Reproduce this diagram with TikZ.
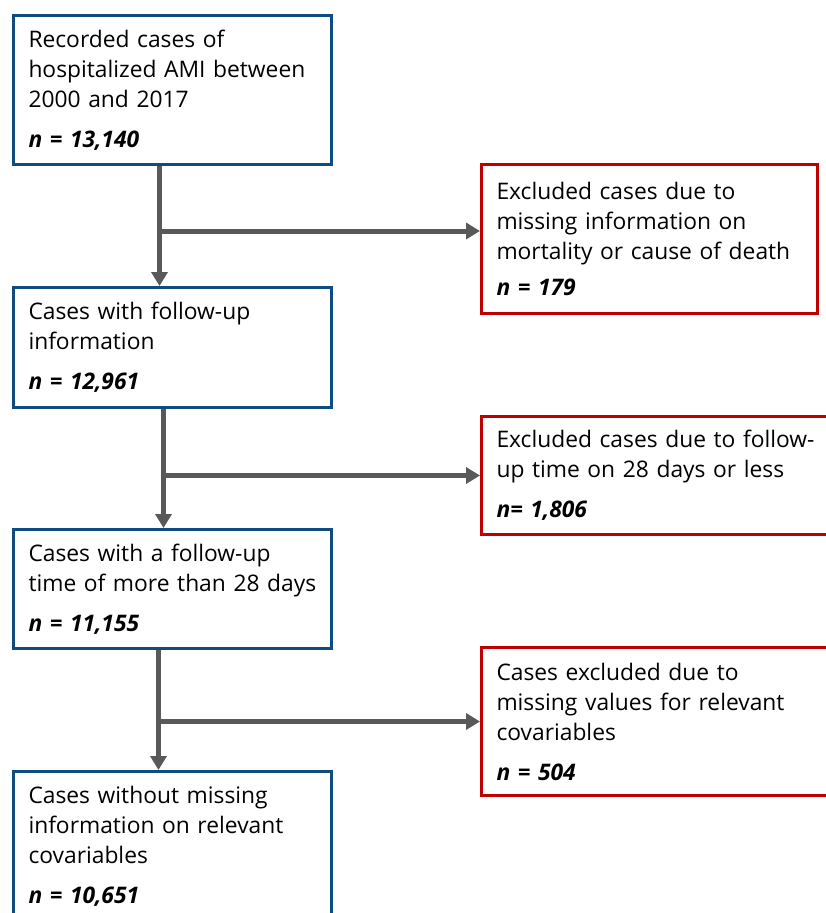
\documentclass[tikz,border=0pt]{standalone}
\usepackage{fontspec}
\setmainfont{Open Sans}
\usetikzlibrary{arrows.meta}
\tikzset{>={Triangle[length=14pt,width=16pt]}}
\definecolor{caseblue}{HTML}{0F4C81}
\definecolor{exclred}{HTML}{C00000}
\definecolor{flowgray}{HTML}{595959}

\begin{document}
\begin{tikzpicture}[x=1pt,y=-1pt,
  box/.style={draw, line width=3pt, fill=white, anchor=north west, align=left,
    inner xsep=15pt, inner ysep=0pt, font=\fontsize{22.8}{30}\selectfont},
  casebox/.style={box, draw=caseblue, text width=288pt},
  exclbox/.style={box, draw=exclred},
  flow/.style={draw=flowgray, line width=5pt}]
\useasboundingbox (0,0) rectangle (825,913);
\node[casebox, minimum height=149pt] (recorded) at (12,14) {Recorded cases of\\hospitalized AMI between\\2000 and 2017\\[10pt]\textbf{\textit{n = 13,140}}};
\node[casebox, minimum height=120pt] (followup) at (12,286) {Cases with follow-up\\information\\[10pt]\textbf{\textit{n = 12,961}}};
\node[casebox, minimum height=119pt] (morethan) at (12,528) {Cases with a follow-up\\time of more than 28 days\\[10pt]\textbf{\textit{n = 11,155}}};
\node[casebox, minimum height=150pt] (complete) at (12,770) {Cases without missing\\information on relevant\\covariables\\[10pt]\textbf{\textit{n = 10,651}}};
\node[exclbox, text width=306pt, minimum height=149pt] (exmort) at (480,163) {Excluded cases due to\\missing information on\\mortality or cause of death\\[6pt]\textbf{\textit{n = 179}}};
\node[exclbox, text width=330pt, minimum height=118pt] (exdays) at (480,415) {Excluded cases due to follow-\\up time on 28 days or less\\[10pt]\textbf{\textit{n= 1,806}}};
\node[exclbox, text width=330pt, minimum height=148pt] (exmiss) at (480,646) {Cases excluded due to\\missing values for relevant\\covariables\\[10pt]\textbf{\textit{n = 504}}};
% branch points
\coordinate (jmort) at ([xshift=-13pt,yshift=8pt]recorded.south |- exmort.west);
\coordinate (jdays) at ([xshift=-9pt]followup.south |- exdays.west);
\coordinate (jmiss) at ([xshift=-14pt]morethan.south |- exmiss.west);
\draw[flow,->] ([xshift=-13pt]recorded.south) -- ([xshift=-13pt]followup.north);
\draw[flow,->] (jmort) -- (exmort.west |- jmort);
\draw[flow,->] ([xshift=-9pt]followup.south) -- ([xshift=-9pt]morethan.north);
\draw[flow,->] (jdays) -- (exdays.west);
\draw[flow,->] ([xshift=-14pt]morethan.south) -- ([xshift=-14pt]complete.north);
\draw[flow,->] (jmiss) -- (exmiss.west);
\end{tikzpicture}
\end{document}
